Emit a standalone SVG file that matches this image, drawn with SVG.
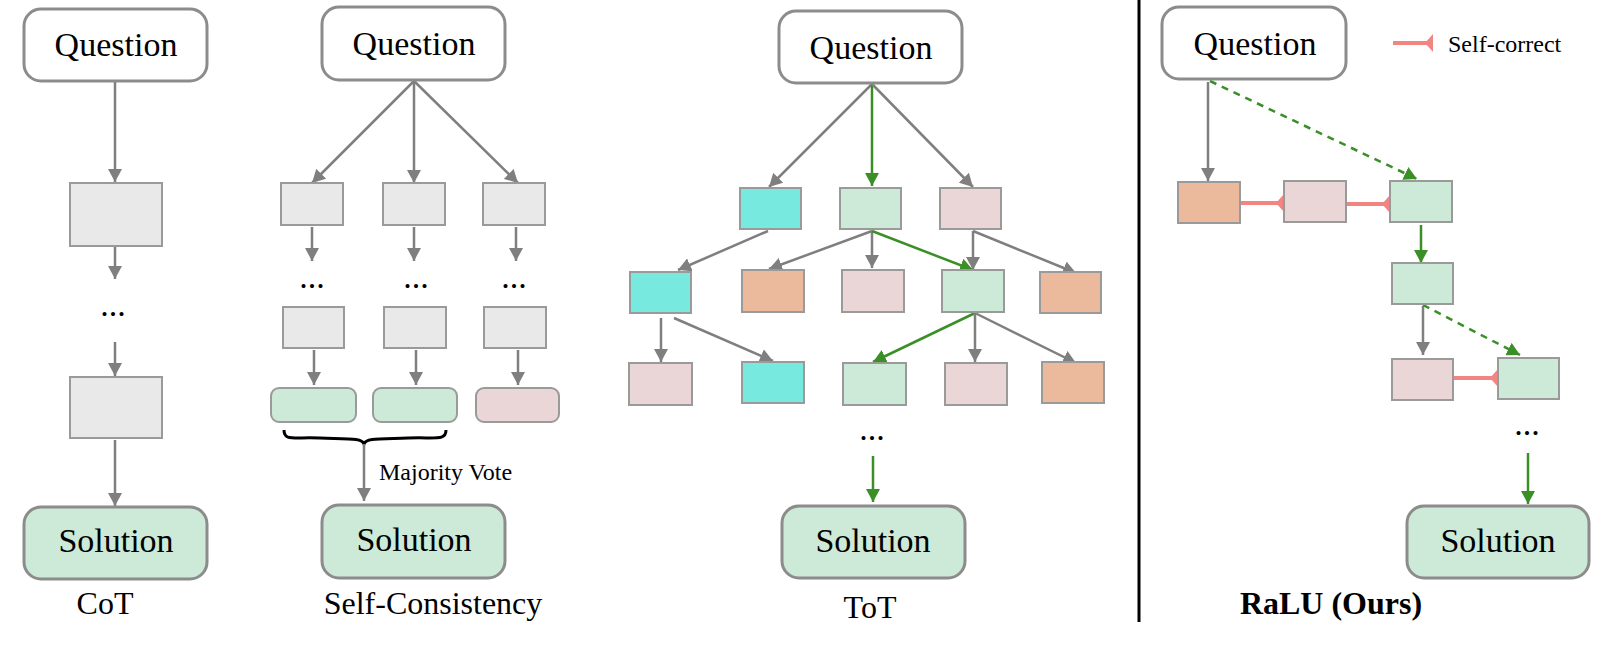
<svg xmlns="http://www.w3.org/2000/svg" width="1608" height="645" viewBox="0 0 1608 645">
<defs>
<style>
.big{fill:#fff;stroke:#8c8c8c;stroke-width:3}
.sol{fill:#cde9d7;stroke:#8c8c8c;stroke-width:3}
.b{stroke:#9a9a9a;stroke-width:2}
.gr{fill:#e9e9e9}
.gn{fill:#cde9d7}
.pk{fill:#ead6d6}
.cy{fill:#77e9de}
.or{fill:#ebb99b}
.t{font-family:"Liberation Serif",serif;fill:#000}
.qt{font-size:34px;text-anchor:middle}
.lb{font-size:32px;text-anchor:middle}
.sm{font-size:24px}
.ga{stroke:#7f7f7f;stroke-width:2.5;fill:none;marker-end:url(#ag)}
.ge{stroke:#3a8f27;stroke-width:2.5;fill:none;marker-end:url(#an)}
.gd{stroke:#3a8f27;stroke-width:2.5;fill:none;stroke-dasharray:7,6;marker-end:url(#an)}
.sc{stroke:#f28482;stroke-width:4;fill:none;marker-end:url(#ap)}
</style>
<marker id="ag" markerUnits="userSpaceOnUse" markerWidth="14" markerHeight="14" refX="13" refY="7" orient="auto"><path d="M0,0 L13,7 L0,14 z" fill="#7f7f7f"/></marker>
<marker id="an" markerUnits="userSpaceOnUse" markerWidth="14" markerHeight="14" refX="13" refY="7" orient="auto"><path d="M0,0 L13,7 L0,14 z" fill="#3a8f27"/></marker>
<marker id="ap" markerUnits="userSpaceOnUse" markerWidth="10" markerHeight="18" refX="9" refY="9" orient="auto"><path d="M1,9 L9,0 L9,18 z" fill="#f28482"/></marker>
</defs>

<g id="connectors">
<!-- CoT -->
<line class="ga" x1="115" y1="82" x2="115" y2="182"/>
<line class="ga" x1="115" y1="247" x2="115" y2="279"/>
<line class="ga" x1="115" y1="342" x2="115" y2="376"/>
<line class="ga" x1="115" y1="440" x2="115" y2="506"/>
<!-- SC -->
<line class="ga" x1="414" y1="81" x2="312" y2="183"/>
<line class="ga" x1="414" y1="81" x2="414" y2="183"/>
<line class="ga" x1="414" y1="81" x2="518" y2="183"/>
<line class="ga" x1="312" y1="227" x2="312" y2="261"/>
<line class="ga" x1="414" y1="227" x2="414" y2="261"/>
<line class="ga" x1="516" y1="227" x2="516" y2="261"/>
<line class="ga" x1="314" y1="350" x2="314" y2="385"/>
<line class="ga" x1="416" y1="350" x2="416" y2="385"/>
<line class="ga" x1="518" y1="350" x2="518" y2="385"/>
<path d="M284,430 C284,441 292,437 320,438 C350,439 362,438 364,444 C366,438 378,439 408,438 C436,437 446,441 446,430" fill="none" stroke="#000" stroke-width="3"/>
<line class="ga" x1="364" y1="444" x2="364" y2="501"/>
<!-- ToT -->
<line class="ga" x1="872" y1="84" x2="769" y2="187"/>
<line class="ge" x1="872" y1="84" x2="872" y2="186"/>
<line class="ga" x1="872" y1="84" x2="973" y2="187"/>
<line class="ga" x1="768" y1="231" x2="678" y2="270"/>
<line class="ga" x1="872" y1="231" x2="769" y2="269"/>
<line class="ga" x1="872" y1="231" x2="872" y2="268"/>
<line class="ge" x1="872" y1="231" x2="973" y2="270"/>
<line class="ga" x1="973" y1="231" x2="973" y2="270"/>
<line class="ga" x1="973" y1="231" x2="1076" y2="273"/>
<line class="ga" x1="661" y1="318" x2="661" y2="362"/>
<line class="ga" x1="674" y1="318" x2="773" y2="361"/>
<line class="ge" x1="975" y1="313" x2="873" y2="362"/>
<line class="ga" x1="975" y1="313" x2="975" y2="362"/>
<line class="ga" x1="975" y1="313" x2="1076" y2="363"/>
<line class="ge" x1="873" y1="456" x2="873" y2="502"/>
<!-- RaLU -->
<line class="ga" x1="1208" y1="82" x2="1208" y2="181"/>
<line class="gd" x1="1210" y1="81" x2="1417" y2="179"/>
<line class="sc" x1="1240" y1="203" x2="1284" y2="203"/>
<line class="sc" x1="1346" y1="204" x2="1390" y2="204"/>
<line class="ge" x1="1421" y1="225" x2="1421" y2="263"/>
<line class="ga" x1="1423" y1="306" x2="1423" y2="355"/>
<line class="gd" x1="1423" y1="305" x2="1520" y2="355"/>
<line class="sc" x1="1453" y1="378" x2="1498" y2="378"/>
<line class="ge" x1="1528" y1="453" x2="1528" y2="504"/>
<!-- legend -->
<line class="sc" x1="1393" y1="43" x2="1433" y2="43"/>
</g>

<line id="divider" x1="1139" y1="0" x2="1139" y2="622" stroke="#000" stroke-width="3"/>

<g id="cot">
<g id="cot-q"><rect class="big" x="24" y="9" width="183" height="72" rx="17"/><text class="t qt" x="116" y="56">Question</text></g>
<rect id="cot-s1" class="b gr" x="70" y="183" width="92" height="63"/>
<text class="t qt" x="113" y="316">...</text>
<rect id="cot-s2" class="b gr" x="70" y="377" width="92" height="61"/>
<g id="cot-sol"><rect class="sol" x="24" y="507" width="183" height="72" rx="17"/><text class="t qt" x="116" y="552">Solution</text></g>
<text class="t lb" x="105" y="614">CoT</text>
</g>

<g id="sc">
<g id="sc-q"><rect class="big" x="322" y="7" width="183" height="73" rx="17"/><text class="t qt" x="414" y="55">Question</text></g>
<rect class="b gr" x="281" y="183" width="62" height="42"/>
<rect class="b gr" x="383" y="183" width="62" height="42"/>
<rect class="b gr" x="483" y="183" width="62" height="42"/>
<text class="t qt" x="312" y="288">...</text>
<text class="t qt" x="416" y="288">...</text>
<text class="t qt" x="514" y="288">...</text>
<rect class="b gr" x="283" y="307" width="61" height="41"/>
<rect class="b gr" x="384" y="307" width="62" height="41"/>
<rect class="b gr" x="484" y="307" width="62" height="41"/>
<rect class="b gn" x="271" y="388" width="85" height="34" rx="8" stroke-width="3"/>
<rect class="b gn" x="373" y="388" width="84" height="34" rx="8" stroke-width="3"/>
<rect class="b pk" x="476" y="388" width="83" height="34" rx="8" stroke-width="3"/>
<text class="t sm" x="379" y="480">Majority Vote</text>
<g id="sc-sol"><rect class="sol" x="322" y="505" width="183" height="73" rx="17"/><text class="t qt" x="414" y="551">Solution</text></g>
<text class="t lb" x="433" y="614">Self-Consistency</text>
</g>

<g id="tot">
<g id="tot-q"><rect class="big" x="779" y="11" width="183" height="72" rx="17"/><text class="t qt" x="871" y="59">Question</text></g>
<rect class="b cy" x="740" y="188" width="61" height="41"/>
<rect class="b gn" x="840" y="188" width="61" height="41"/>
<rect class="b pk" x="940" y="188" width="61" height="41"/>
<rect class="b cy" x="630" y="272" width="61" height="41"/>
<rect class="b or" x="742" y="270" width="62" height="42"/>
<rect class="b pk" x="842" y="270" width="62" height="42"/>
<rect class="b gn" x="942" y="270" width="62" height="42"/>
<rect class="b or" x="1040" y="272" width="61" height="41"/>
<rect class="b pk" x="629" y="363" width="63" height="42"/>
<rect class="b cy" x="742" y="362" width="62" height="41"/>
<rect class="b gn" x="843" y="363" width="63" height="42"/>
<rect class="b pk" x="945" y="363" width="62" height="42"/>
<rect class="b or" x="1042" y="362" width="62" height="41"/>
<text class="t qt" x="872" y="440">...</text>
<g id="tot-sol"><rect class="sol" x="782" y="506" width="183" height="72" rx="17"/><text class="t qt" x="873" y="552">Solution</text></g>
<text class="t lb" x="870" y="618">ToT</text>
</g>

<g id="ralu">
<g id="ralu-q"><rect class="big" x="1162" y="7" width="184" height="72" rx="17"/><text class="t qt" x="1255" y="55">Question</text></g>
<text class="t sm" x="1448" y="52">Self-correct</text>
<rect class="b or" x="1178" y="182" width="62" height="41"/>
<rect class="b pk" x="1284" y="181" width="62" height="41"/>
<rect class="b gn" x="1390" y="181" width="62" height="41"/>
<rect class="b gn" x="1392" y="263" width="61" height="41"/>
<rect class="b pk" x="1392" y="359" width="61" height="41"/>
<rect class="b gn" x="1498" y="358" width="61" height="41"/>
<text class="t qt" x="1527" y="435">...</text>
<g id="ralu-sol"><rect class="sol" x="1407" y="506" width="182" height="72" rx="17"/><text class="t qt" x="1498" y="552">Solution</text></g>
<text class="t lb" x="1331" y="614" font-weight="bold">RaLU (Ours)</text>
</g>
</svg>
